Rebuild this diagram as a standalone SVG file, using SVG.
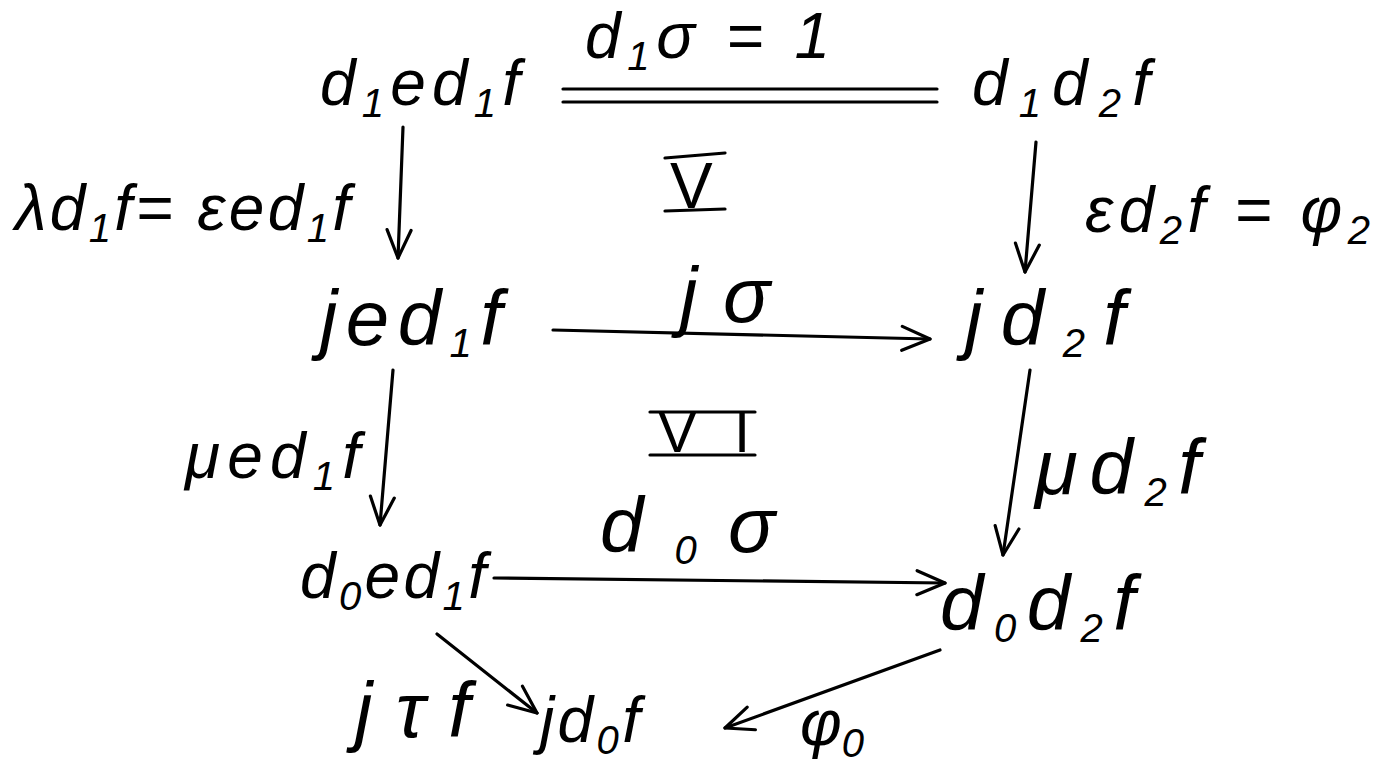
<svg xmlns="http://www.w3.org/2000/svg" width="1384" height="766" viewBox="0 0 1384 766">
<style>
text{font-family:"Liberation Sans","DejaVu Sans",sans-serif;font-style:italic;font-size:64px;fill:#000}
.s{font-size:40px}
.r{font-style:normal}
.b{font-size:78px}
.c{stroke:#000;stroke-width:3.2;fill:none;stroke-linecap:round}
</style>
<defs>
<marker id="ah" markerUnits="userSpaceOnUse" markerWidth="40" markerHeight="40" refX="30" refY="20" orient="auto" viewBox="0 0 40 40">
<path d="M2,8 L30,20 L2,32" fill="none" stroke="#000" stroke-width="3.2" stroke-linecap="round" stroke-linejoin="round"/>
</marker>
</defs>
<rect width="1384" height="766" fill="#fff"/>
<g id="connectors">
<path class="c" d="M563,89 L937,89 M563,102 L937,102"/>
<path class="c" d="M403,127 L398,258" marker-end="url(#ah)"/>
<path class="c" d="M1036,142 L1025,272" marker-end="url(#ah)"/>
<path class="c" d="M553,330 L930,339" marker-end="url(#ah)"/>
<path class="c" d="M393,370 L380,525" marker-end="url(#ah)"/>
<path class="c" d="M1030,370 L1003,555" marker-end="url(#ah)"/>
<path class="c" d="M494,578 L945,583" marker-end="url(#ah)"/>
<path class="c" d="M437,634 L537,713" marker-end="url(#ah)"/>
<path class="c" d="M940,650 L725,728" marker-end="url(#ah)"/>
<path class="c" d="M665,158 L725,153 M665,211 L725,209"/>
<path class="c" d="M650,412 L755,412 M650,455 L755,455"/>
</g>
<g id="n1"><text x="320" y="105" textLength="200" lengthAdjust="spacing">d<tspan class="s" dy="12">1</tspan><tspan dy="-12">ed</tspan><tspan class="s" dy="12">1</tspan><tspan dy="-12">f</tspan></text></g>
<g id="n2"><text x="972" y="105" textLength="178" lengthAdjust="spacing">d<tspan class="s" dy="12">1</tspan><tspan dy="-12">d</tspan><tspan class="s" dy="12">2</tspan><tspan dy="-12">f</tspan></text></g>
<g id="n3"><text class="b" x="320" y="345" textLength="182" lengthAdjust="spacing">jed<tspan class="s" dy="12">1</tspan><tspan dy="-12">f</tspan></text></g>
<g id="n4"><text class="b" x="965" y="345" textLength="160" lengthAdjust="spacing">jd<tspan class="s" dy="12">2</tspan><tspan dy="-12">f</tspan></text></g>
<g id="n5"><text x="300" y="598" textLength="186" lengthAdjust="spacing">d<tspan class="s" dy="12">0</tspan><tspan dy="-12">ed</tspan><tspan class="s" dy="12">1</tspan><tspan dy="-12">f</tspan></text></g>
<g id="n6"><text class="b" x="940" y="630" textLength="195" lengthAdjust="spacing">d<tspan class="s" dy="12">0</tspan><tspan dy="-12">d</tspan><tspan class="s" dy="12">2</tspan><tspan dy="-12">f</tspan></text></g>
<g id="n7"><text x="540" y="742" textLength="100" lengthAdjust="spacing">jd<tspan class="s" dy="12">0</tspan><tspan dy="-12">f</tspan></text></g>
<g id="labels">
<text x="585" y="58" textLength="245" lengthAdjust="spacing">d<tspan class="s" dy="12">1</tspan><tspan dy="-12">σ = 1</tspan></text>
<text x="15" y="230" textLength="335" lengthAdjust="spacing">λd<tspan class="s" dy="12">1</tspan><tspan dy="-12">f= εed</tspan><tspan class="s" dy="12">1</tspan><tspan dy="-12">f</tspan></text>
<text x="1085" y="232" textLength="285" lengthAdjust="spacing">εd<tspan class="s" dy="12">2</tspan><tspan dy="-12">f = φ</tspan><tspan class="s" dy="12">2</tspan></text>
<text class="r" x="670" y="208" textLength="52" lengthAdjust="spacing">V</text>
<text class="r" x="658" y="452" style="font-size:58px" textLength="92" lengthAdjust="spacing">VI</text>
<text class="b" x="680" y="322" textLength="90" lengthAdjust="spacing">jσ</text>
<text x="185" y="478" textLength="175" lengthAdjust="spacing">μed<tspan class="s" dy="12">1</tspan><tspan dy="-12">f</tspan></text>
<text class="b" x="1035" y="494" textLength="165" lengthAdjust="spacing">μd<tspan class="s" dy="12">2</tspan><tspan dy="-12">f</tspan></text>
<text class="b" x="600" y="552" textLength="175" lengthAdjust="spacing">d<tspan class="s" dy="12">0</tspan><tspan dy="-12">σ</tspan></text>
<text class="b" x="355" y="737" textLength="115" lengthAdjust="spacing">jτf</text>
<text x="800" y="745">φ<tspan class="s" dy="12">0</tspan></text>
</g>
</svg>
